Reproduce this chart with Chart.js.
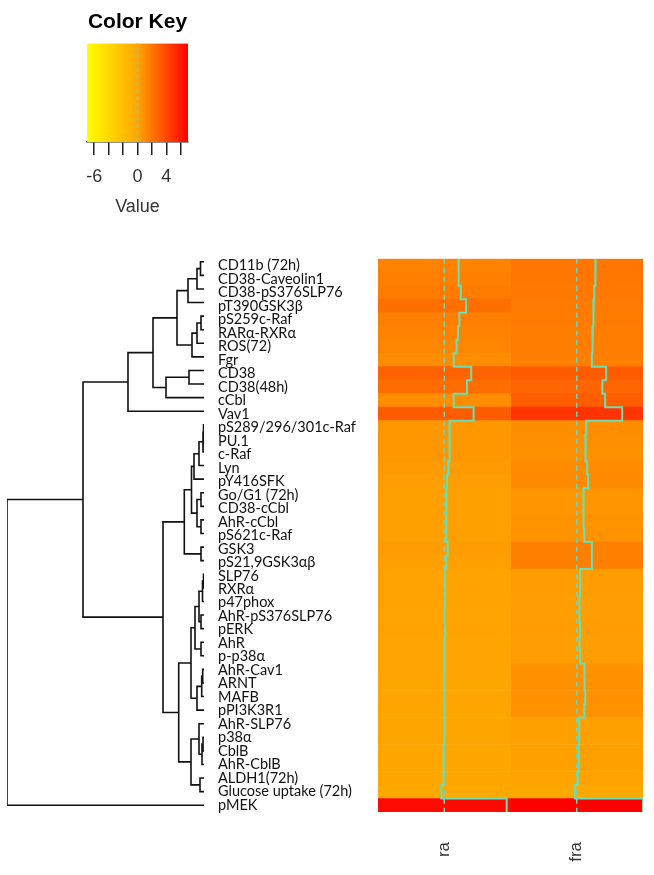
<!DOCTYPE html>
<html>
<head>
<meta charset="utf-8">
<script src="https://cdn.jsdelivr.net/npm/chart.js@4.4.1/dist/chart.umd.min.js"></script>
<style>
  body { margin: 0; background: #fff; }
  #wrap { position: relative; width: 654px; height: 875px; }
  canvas { position: absolute; }
  #keyChart { left: 0; top: 0; }
  #dendroChart { left: 0; top: 250px; }
  #heatChart { left: 210px; top: 250px; }
</style>
</head>
<body>
<div id="wrap">
  <canvas id="keyChart" width="230" height="230"></canvas>
  <canvas id="dendroChart" width="210" height="575"></canvas>
  <canvas id="heatChart" width="444" height="625"></canvas>
</div>
<script>
// rows, top to bottom (dendrogram order)
const rowNames = [
    'CD11b (72h)', 'CD38-Caveolin1', 'CD38-pS376SLP76', 'pT390GSK3β', 'pS259c-Raf',
    'RARα-RXRα', 'ROS(72)', 'Fgr', 'CD38', 'CD38(48h)', 'cCbl', 'Vav1',
    'pS289/296/301c-Raf', 'PU.1', 'c-Raf', 'Lyn', 'pY416SFK', 'Go/G1 (72h)',
    'CD38-cCbl', 'AhR-cCbl', 'pS621c-Raf', 'GSK3', 'pS21,9GSK3αβ', 'SLP76',
    'RXRα', 'p47phox', 'AhR-pS376SLP76', 'pERK', 'AhR', 'p-p38α', 'AhR-Cav1',
    'ARNT', 'MAFB', 'pPI3K3R1', 'AhR-SLP76', 'p38α', 'CblB', 'AhR-CblB',
    'ALDH1(72h)', 'Glucose uptake (72h)', 'pMEK'
];
const colNames = ['ra', 'fra'];

const raValues = [
    1.5, 1.55, 1.75, 2.3, 1.6, 1.45, 1.3, 1.0, 2.85, 2.4, 1.0, 3.1,
    0.55, 0.55, 0.6, 0.45, 0.3, 0.25, 0.2, 0.2, 0.25, 0.35, 0.2,
    0.1, 0.1, 0.1, 0.05, 0.1, 0.05, 0.05, 0.05, 0.0, 0.05, 0.0,
    0.0, 0.0, -0.05, -0.05, -0.1, -0.3, 6.6
];
const fraValues = [
    2.0, 1.95, 1.85, 1.8, 1.75, 1.7, 1.65, 1.6, 3.1, 2.7, 3.0, 4.8,
    1.0, 0.95, 0.9, 1.1, 1.2, 0.7, 0.7, 0.75, 0.8, 1.6, 1.6,
    0.35, 0.35, 0.3, 0.3, 0.35, 0.3, 0.35, 0.8, 0.85, 0.9, 0.8,
    0.25, 0.25, 0.2, 0.2, 0.1, -0.2, 7.0
];

// colour key
const keyRange = [-7, 7];
const keyTicks = [-6, -4, -2, 0, 2, 4, 6];
const keyTickLabels = [-6, 0, 4];

// row dendrogram, hclust style: negative = leaf (1-based row), positive = earlier merge
const dendroMerge = [
    [-13, -14], [1, -15], [-36, -37], [-24, -25], [4, -26], [-31, -32], [3, -38], [6, -33],
    [-1, -2], [-5, -6], [-27, -28], [-29, -30], [-18, -19], [-20, -21], [-22, -23], [-39, -40],
    [2, -16], [5, 11], [-35, 7], [9, -3], [10, -7], [13, 14], [8, -34], [17, -17],
    [18, 12], [20, -4], [21, -8], [-9, -10], [24, 22], [25, 23], [19, 16], [29, 15],
    [30, 31], [26, 27], [28, -11], [32, 33], [34, 35], [37, -12], [38, 36], [39, -41]
];
const dendroHeight = [
    0.05, 0.1, 0.1, 0.05, 0.15, 0.13, 0.2, 0.23,
    0.35, 0.3, 0.3, 0.3, 0.3, 0.3, 0.3, 0.4,
    0.5, 0.5, 0.5, 0.7, 0.7, 0.7, 0.7, 1.0,
    0.9, 1.6, 1.2, 1.5, 1.25, 1.3, 1.3, 1.97,
    2.53, 2.7, 3.8, 4.1, 5.1, 7.6, 12.1, 19.7
];

const traceColor = '#66E0B4';
const labelFont = 'Lato, "Liberation Sans", sans-serif';
const axisFont = '"Liberation Sans", Arial, sans-serif';

function heatColor(v) {
    const t = Math.max(-1, Math.min(1, v / keyRange[1]));
    // yellow -> orange -> red
    const g = t < 0 ? 165 + (255 - 165) * (-t) : 165 * (1 - t);
    return 'rgb(255,' + Math.round(g) + ',0)';
}

function tracePoints(values, col) {
    const span = keyRange[1] - keyRange[0];
    const pts = [];
    values.forEach((v, i) => {
        const x = col + 0.5 + v / span;
        pts.push({x: x, y: i}, {x: x, y: i + 1});
    });
    return pts;
}

// dendrogram segments
const nodeY = [];
const nodeH = [];
function childPos(c) {
    if (c < 0) return {y: -c - 1 + 0.5, h: 0};
    return {y: nodeY[c - 1], h: nodeH[c - 1]};
}
const dendroPoints = [];
dendroMerge.forEach(([a, b], k) => {
    const h = dendroHeight[k];
    const pa = childPos(a);
    const pb = childPos(b);
    nodeY.push((pa.y + pb.y) / 2);
    nodeH.push(h);
    dendroPoints.push({x: pa.h, y: pa.y}, {x: h, y: pa.y}, {x: h, y: pb.y}, {x: pb.h, y: pb.y}, {x: null, y: null});
});

// --- colour key ---
new Chart(document.getElementById('keyChart'), {
    type: 'line',
    data: {
        datasets: [{
            data: [{x: keyRange[0], y: 1}, {x: keyRange[1], y: 1}],
            fill: 'origin',
            borderWidth: 0,
            pointRadius: 0,
            order: 2,
            backgroundColor: function(ctx) {
                const chart = ctx.chart;
                if (!chart.chartArea) return heatColor(0);
                const xs = chart.scales.x;
                const g = chart.ctx.createLinearGradient(xs.getPixelForValue(keyRange[0]), 0, xs.getPixelForValue(keyRange[1]), 0);
                g.addColorStop(0, heatColor(keyRange[0]));
                g.addColorStop(0.5, heatColor(0));
                g.addColorStop(1, heatColor(keyRange[1]));
                return g;
            }
        }, {
            data: [{x: 0, y: 0}, {x: 0, y: 1}],
            borderColor: '#7FCFA8',
            borderWidth: 1.5,
            borderDash: [4, 3],
            pointRadius: 0,
            order: 0
        }]
    },
    options: {
        responsive: false,
        animation: false,
        layout: {padding: {left: 87, right: 42, top: 0, bottom: 0}},
        plugins: {
            legend: {display: false},
            tooltip: {enabled: false},
            title: {
                display: true,
                text: 'Color Key',
                color: '#000',
                font: {family: axisFont, size: 21, weight: 'bold'},
                padding: {top: 10, bottom: 8}
            }
        },
        scales: {
            x: {
                type: 'linear',
                min: keyRange[0],
                max: keyRange[1],
                afterBuildTicks: s => { s.ticks = keyTicks.map(v => ({value: v})); },
                afterFit: s => { s.height = 88; },
                grid: {drawOnChartArea: false, tickLength: 13, color: '#222', lineWidth: 1.5},
                border: {display: true, color: '#222', width: 1.5},
                ticks: {
                    autoSkip: false,
                    color: '#333',
                    padding: 11,
                    font: {family: axisFont, size: 18},
                    maxRotation: 0,
                    callback: v => keyTickLabels.includes(v) ? String(v) : ''
                },
                title: {
                    display: true,
                    text: 'Value',
                    color: '#333',
                    font: {family: axisFont, size: 18},
                    padding: {top: 4, bottom: 12}
                }
            },
            y: {type: 'linear', min: 0, max: 1, display: false}
        }
    }
});

// --- row dendrogram ---
new Chart(document.getElementById('dendroChart'), {
    type: 'line',
    data: {
        datasets: [{
            data: dendroPoints,
            borderColor: '#111',
            borderWidth: 1.6,
            pointRadius: 0,
            fill: false
        }]
    },
    options: {
        responsive: false,
        animation: false,
        layout: {padding: {left: 7, right: 6, top: 5, bottom: 13}},
        plugins: {legend: {display: false}, tooltip: {enabled: false}},
        scales: {
            x: {type: 'linear', min: 0, max: dendroHeight[dendroHeight.length - 1], reverse: true, display: false},
            y: {type: 'linear', min: 0, max: rowNames.length, reverse: true, display: false}
        }
    }
});

// --- heatmap with traces ---
const allValues = [raValues, fraValues];
const cellSets = colNames.map((name, c) => ({
    type: 'bar',
    label: name,
    indexAxis: 'y',
    xAxisID: 'x',
    yAxisID: 'y',
    data: rowNames.map(() => [c, c + 1]),
    backgroundColor: ctx => heatColor(allValues[c][ctx.dataIndex]),
    borderWidth: 0,
    barPercentage: 1,
    categoryPercentage: 1,
    grouped: false,
    order: 3
}));
const centreSets = colNames.map((name, c) => ({
    type: 'line',
    indexAxis: 'x',
    xAxisID: 'x',
    yAxisID: 'yl',
    data: [{x: c + 0.5, y: 0}, {x: c + 0.5, y: rowNames.length}],
    borderColor: '#7FCFA8',
    borderWidth: 1.5,
    borderDash: [5, 4],
    pointRadius: 0,
    fill: false,
    order: 1
}));
const traceSets = colNames.map((name, c) => ({
    type: 'line',
    indexAxis: 'x',
    xAxisID: 'x',
    yAxisID: 'yl',
    data: tracePoints(allValues[c], c),
    borderColor: traceColor,
    borderWidth: 2,
    pointRadius: 0,
    fill: false,
    order: 0
}));

new Chart(document.getElementById('heatChart'), {
    type: 'bar',
    data: {
        labels: rowNames,
        datasets: [...cellSets, ...centreSets, ...traceSets]
    },
    options: {
        responsive: false,
        animation: false,
        indexAxis: 'y',
        layout: {padding: {left: 8, right: 11, top: 5, bottom: 0}},
        plugins: {legend: {display: false}, tooltip: {enabled: false}},
        scales: {
            x: {
                type: 'linear',
                min: 0,
                max: colNames.length,
                offset: false,
                afterBuildTicks: s => { s.ticks = colNames.map((n, c) => ({value: c + 0.5})); },
                afterFit: s => { s.height = 63; },
                grid: {display: false},
                border: {display: false},
                ticks: {
                    color: '#333',
                    padding: 22,
                    minRotation: 90,
                    maxRotation: 90,
                    font: {family: axisFont, size: 17},
                    callback: (v, i) => colNames[i]
                }
            },
            y: {
                type: 'category',
                offset: true,
                afterFit: s => { s.width = 160; },
                grid: {display: false},
                border: {display: false},
                ticks: {
                    autoSkip: false,
                    crossAlign: 'far',
                    padding: 0,
                    color: '#111',
                    font: {family: labelFont, size: 14.5}
                }
            },
            yl: {
                type: 'linear',
                min: 0,
                max: rowNames.length,
                reverse: true,
                offset: false,
                grace: 0,
                display: false
            }
        }
    }
});
</script>
</body>
</html>
